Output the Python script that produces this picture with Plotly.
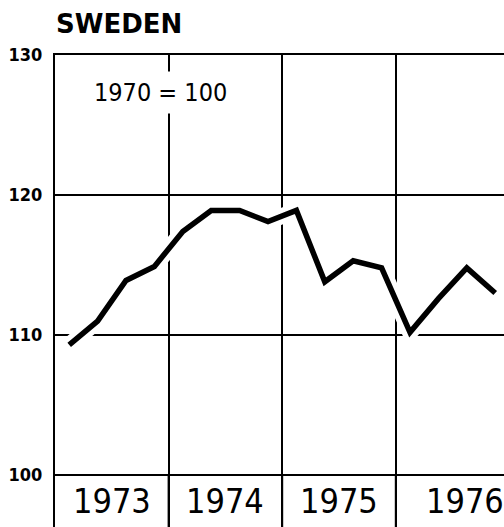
import plotly.graph_objects as go

# quarterly index, 1970 = 100
years = ["1973", "1974", "1975", "1976"]
quarters = ["Q1", "Q2", "Q3", "Q4"]
index_values = [109.3, 111.0, 113.9, 114.9,
                117.4, 118.9, 118.9, 118.1,
                118.9, 113.8, 115.3, 114.8,
                110.2, 112.6, 114.8, 113.0]
y_ticks = [100, 110, 120, 130]

labels = [f"{y} {q}" for y in years for q in quarters]
x_pos = [i + 0.5 for i in range(len(labels))]
year_edges = [4 * i for i in range(1, len(years))]
y_bottom = 96.29

NARROW = "DejaVu Sans Condensed, DejaVu Sans, sans-serif"

fig = go.Figure()
# white halo under the line, as in the printed original
fig.add_trace(go.Scatter(x=x_pos, y=index_values, mode="lines",
                         line=dict(color="white", width=16),
                         hoverinfo="skip", showlegend=False))
fig.add_trace(go.Scatter(x=x_pos, y=index_values, mode="lines",
                         line=dict(color="black", width=5.5),
                         text=labels, hovertemplate="%{text}: %{y}<extra></extra>",
                         showlegend=False))

# year dividers run through the label strip too
for xe in year_edges:
    fig.add_shape(type="line", xref="x", yref="y", x0=xe, x1=xe,
                  y0=y_bottom, y1=y_ticks[0], layer="above",
                  line=dict(color="black", width=2))

# year labels in the strip under the 100 line
for i, yr in enumerate(years):
    fig.add_annotation(x=i * 4 + 2, y=98.15, text=yr, showarrow=False,
                       xshift=12 if i == len(years) - 1 else 0,
                       font=dict(family=NARROW, size=34, color="black"))

fig.add_annotation(xref="paper", yref="paper", x=0, y=1, xanchor="left",
                   yanchor="bottom", xshift=-1, yshift=14, text="<b>SWEDEN</b>",
                   showarrow=False,
                   font=dict(family="DejaVu Sans", size=26, color="black"))
fig.add_annotation(x=3.73, y=127.35, text="1970 = 100", showarrow=False,
                   bgcolor="white", borderpad=6,
                   font=dict(family=NARROW, size=25, color="black"))

fig.update_layout(
    width=504, height=527,
    margin=dict(l=55, r=0, t=55, b=0),
    paper_bgcolor="white", plot_bgcolor="white",
    xaxis=dict(range=[0, 15.81], side="top", tickvals=year_edges,
               showticklabels=False, ticks="", showgrid=True,
               gridcolor="black", gridwidth=2, showline=True,
               linecolor="black", linewidth=2, zeroline=False,
               automargin=False),
    yaxis=dict(range=[y_bottom, 130], tickvals=y_ticks, ticks="",
               showgrid=True, gridcolor="black", gridwidth=2,
               showline=True, linecolor="black", linewidth=2,
               zeroline=False, ticklabelstandoff=7, automargin=False,
               tickfont=dict(family=NARROW, size=18, color="black",
                             weight="bold")),
)

# drop the browser's default body margin so the figure fills the window
fig.write_html("out.html", config={"displayModeBar": False},
               post_script="document.body.style.margin='0';"
                           "document.body.style.overflow='hidden';")
